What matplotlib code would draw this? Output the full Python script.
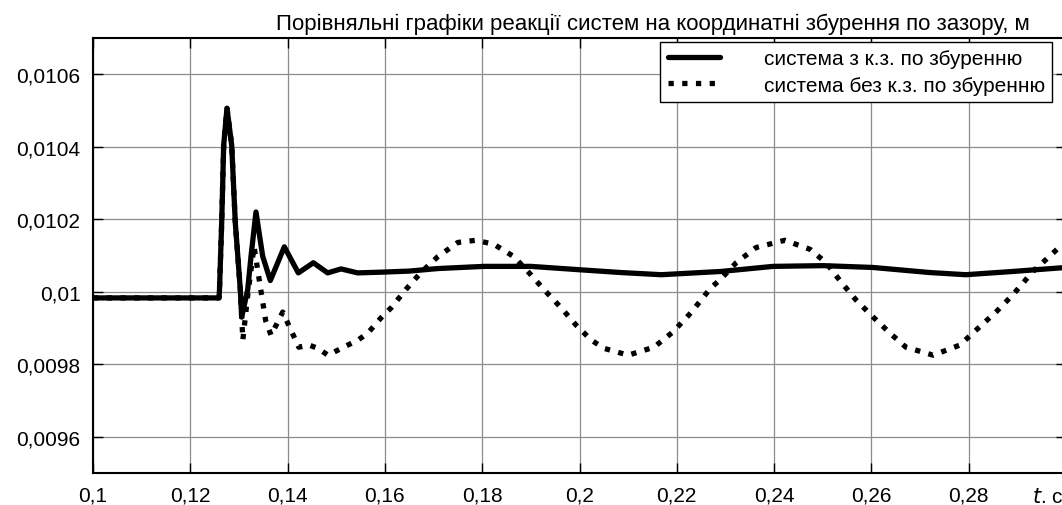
import matplotlib
matplotlib.use('Agg')
import matplotlib.pyplot as plt
from matplotlib.ticker import FuncFormatter

plt.rcParams['font.family'] = ['Liberation Sans', 'DejaVu Sans']

# -- system with k.z. (solid) --
t_kz = [0.1, 0.1259, 0.1260, 0.12645, 0.12686, 0.12754, 0.12851, 0.12925, 0.13028,
        0.13056, 0.1318, 0.13248, 0.1335, 0.13488, 0.13645, 0.13933, 0.1422, 0.1453,
        0.14823, 0.15098, 0.1544, 0.1592, 0.165, 0.1709, 0.1804, 0.19, 0.1997, 0.2085,
        0.2168, 0.2291, 0.2398, 0.2501, 0.2603, 0.272, 0.2794, 0.2891, 0.3]
y_kz = [0.009983, 0.009983, 0.010006, 0.01019, 0.010404, 0.010506, 0.010404, 0.01019, 0.010006,
        0.00993, 0.010006, 0.010098, 0.01022, 0.010098, 0.010031, 0.010124, 0.010052, 0.01008,
        0.010052, 0.010063, 0.010052, 0.010054, 0.010057, 0.010064, 0.01007, 0.01007, 0.010061, 0.010053,
        0.010047, 0.010056, 0.01007, 0.010072, 0.010067, 0.010053, 0.010047, 0.010056, 0.010067]

# -- system without k.z. (dotted) --
t_bez = [0.1, 0.1259, 0.1260, 0.12645, 0.12686, 0.12754, 0.12851, 0.12925, 0.13028,
         0.1308, 0.1318, 0.1331, 0.1342, 0.1355, 0.1366, 0.139, 0.1407, 0.1423, 0.1444,
         0.1462, 0.1483, 0.1524, 0.1545, 0.1565, 0.1592, 0.1613, 0.1643, 0.1674, 0.1709,
         0.175, 0.1787, 0.1824, 0.1865, 0.19, 0.1927, 0.1962, 0.1993, 0.2024, 0.205, 0.21,
         0.2153, 0.2192, 0.2229, 0.227, 0.2289, 0.2322, 0.2363, 0.2422, 0.2474, 0.2507,
         0.2537, 0.2568, 0.2603, 0.2638, 0.2671, 0.2727, 0.2782, 0.2815, 0.2856, 0.2891,
         0.2932, 0.2959, 0.2988, 0.3]
y_bez = [0.009983, 0.009983, 0.010006, 0.01019, 0.010404, 0.010506, 0.010404, 0.01019, 0.010006,
         0.009867, 0.00999, 0.010125, 0.01003, 0.00992, 0.00988, 0.009944, 0.009894, 0.009847, 0.009853,
         0.009844, 0.009825, 0.009853, 0.009867, 0.009886, 0.009928, 0.009956, 0.010006, 0.010053, 0.010097,
         0.010136, 0.010142, 0.010131, 0.010097, 0.010047, 0.010006, 0.009956, 0.009908, 0.009867, 0.009844, 0.009825,
         0.009847, 0.009889, 0.009942, 0.010011, 0.010033, 0.01008, 0.010122, 0.010142, 0.010117, 0.01008,
         0.010028, 0.009978, 0.009931, 0.009886, 0.009847, 0.009825, 0.009853, 0.009894, 0.009944, 0.009992,
         0.010056, 0.010089, 0.010125, 0.010137]

xticks = [0.1, 0.12, 0.14, 0.16, 0.18, 0.2, 0.22, 0.24, 0.26, 0.28]
yticks = [0.0096, 0.0098, 0.01, 0.0102, 0.0104, 0.0106]

title = 'Порівняльні графіки реакції систем на координатні збурення по зазору, м'
lab_kz = 'система з к.з. по збуренню'
lab_bez = 'система без к.з. по збуренню'

fs = 15
fig = plt.figure(figsize=(10.62, 5.06), dpi=100)
ax = fig.add_axes([93/1062, 32/506, 973/1062, 435/506])

ax.plot(t_kz, y_kz, color='black', lw=3.8, label=lab_kz,
        solid_capstyle='round', solid_joinstyle='round')
ax.plot(t_bez, y_bez, color='black', lw=3.8, ls=(0, (1, 1.6)), label=lab_bez)

ax.set_xlim(0.1, 0.3)
ax.set_ylim(0.0095, 0.0107)
ax.set_xticks(xticks)
ax.set_yticks(yticks)
fmt = FuncFormatter(lambda v, p: f'{v:g}'.replace('.', ','))
ax.xaxis.set_major_formatter(fmt)
ax.yaxis.set_major_formatter(fmt)
ax.tick_params(direction='in', length=7.5, width=1, labelsize=fs, pad=9,
               top=True, right=True, colors='black')
ax.grid(True, color='#8c8c8c', lw=0.9)
for s in ax.spines.values():
    s.set_linewidth(1.5)

fig.text(1030/1062, 1 - 30/506, title, ha='right', va='baseline', fontsize=16)
fig.text(1032/1062, 1 - 503/506, r'$\it{t}$' + '. c', ha='left', va='baseline', fontsize=fs)

leg = ax.legend(loc='upper right', bbox_to_anchor=((1052-93)/973, (474-43)/435),
                borderaxespad=0, fontsize=fs, frameon=True, fancybox=False,
                edgecolor='black', framealpha=1, handlelength=2.5, handletextpad=2.1,
                labelspacing=0.35, borderpad=0.35)
leg.get_frame().set_linewidth(1.0)

plt.savefig('out.png', dpi=100)
